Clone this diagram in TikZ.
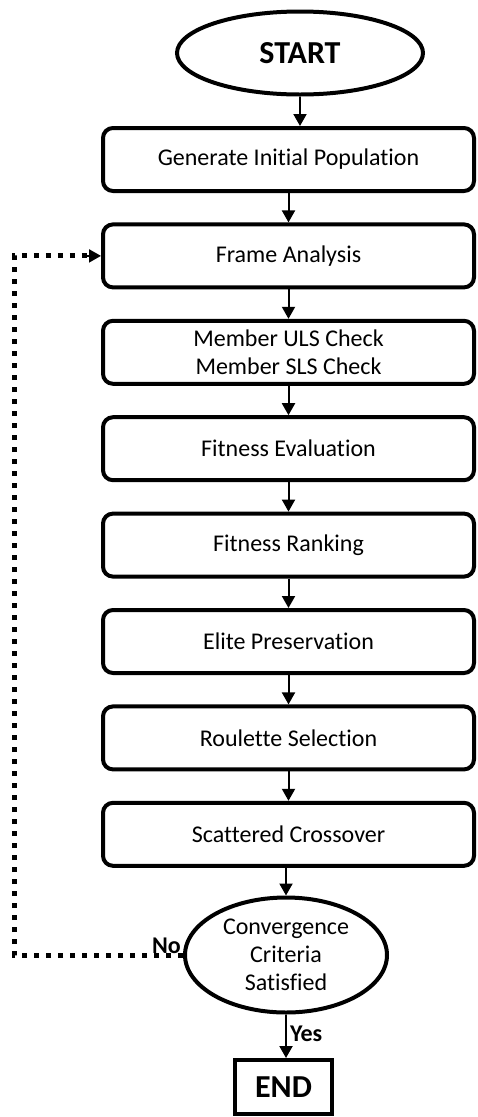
\documentclass[tikz,border=0pt]{standalone}
\usepackage{fontspec}
\setmainfont{Carlito}[Ligatures=CommonOff]
\usetikzlibrary{arrows.meta,positioning,shapes.geometric,calc}

\begin{document}
\begin{tikzpicture}[
  x=1pt, y=-1pt,
  >={Triangle[length=12pt,width=13pt]},
  font=\fontsize{24}{28}\selectfont,
  procbox/.style={
    draw=black,
    rounded corners=10pt,
    line width=4pt,
    minimum width=371pt,
    minimum height=63pt,
    inner sep=2pt,
    align=center
  },
  terminal/.style={
    draw=black,
    ellipse,
    line width=4pt,
    inner sep=0pt,
    align=center
  },
  flowarrow/.style={->, line width=2pt},
  loopline/.style={line width=5pt, dash pattern=on 5pt off 7pt},
  answer/.style={font=\fontsize{24}{28}\selectfont\bfseries, inner sep=0pt}
]
  \useasboundingbox (0,0) rectangle (477,1117);

  % --- terminals and process steps ---
  \node[terminal, minimum width=246pt, minimum height=83pt, font=\fontsize{32}{36}\selectfont\bfseries] (start) at (300,53) {START};

  \node[procbox] (initpop) at (288.5,159.5) {Generate Initial Population};
  \node[procbox] (frame) at ($(initpop)+(0,96.4)$) {Frame Analysis};
  \node[procbox] (check) at ($(frame)+(0,96.4)$) {Member ULS Check\\Member SLS Check};
  \node[procbox] (fiteval) at ($(check)+(0,96.4)$) {Fitness Evaluation};
  \node[procbox] (fitrank) at ($(fiteval)+(0,96.4)$) {Fitness Ranking};
  \node[procbox] (elite) at ($(fitrank)+(0,96.4)$) {Elite Preservation};
  \node[procbox] (roulette) at ($(elite)+(0,96.4)$) {Roulette Selection};
  \node[procbox] (crossover) at ($(roulette)+(0,96.4)$) {Scattered Crossover};

  \node[terminal, minimum width=202pt, minimum height=115pt] (converge) at (286,955) {Convergence\\Criteria\\Satisfied};

  \node[draw=black, line width=4pt, minimum width=97pt, minimum height=54pt, inner sep=0pt, font=\fontsize{32}{36}\selectfont\bfseries] (finish) at (283.5,1087) {END};

  % --- main flow ---
  \draw[flowarrow] (start.south) -- (start.south |- initpop.north);
  \draw[flowarrow] (initpop.south) -- (frame.north);
  \draw[flowarrow] (frame.south) -- (check.north);
  \draw[flowarrow] (check.south) -- (fiteval.north);
  \draw[flowarrow] (fiteval.south) -- (fitrank.north);
  \draw[flowarrow] (fitrank.south) -- (elite.north);
  \draw[flowarrow] (elite.south) -- (roulette.north);
  \draw[flowarrow] (roulette.south) -- (crossover.north);
  \draw[flowarrow] (crossover.south -| converge.north) -- (converge.north);
  \draw[flowarrow] (converge.south) -- (converge.south |- finish.north)
    node[answer, pos=0.45, right=3pt] {Yes};

  % --- loop back ---
  \coordinate (loopcorner) at (14,0);
  \draw[loopline] (converge.west) -- (converge.west -| loopcorner) -- (frame.west -| loopcorner) -- ($(frame.west)+(-13,0)$);
  \draw[->, line width=2pt] ($(frame.west)+(-14,0)$) -- (frame.west);
  \node[answer, anchor=south east] at ($(converge.west)+(-2,-1)$) {No};
\end{tikzpicture}
\end{document}
